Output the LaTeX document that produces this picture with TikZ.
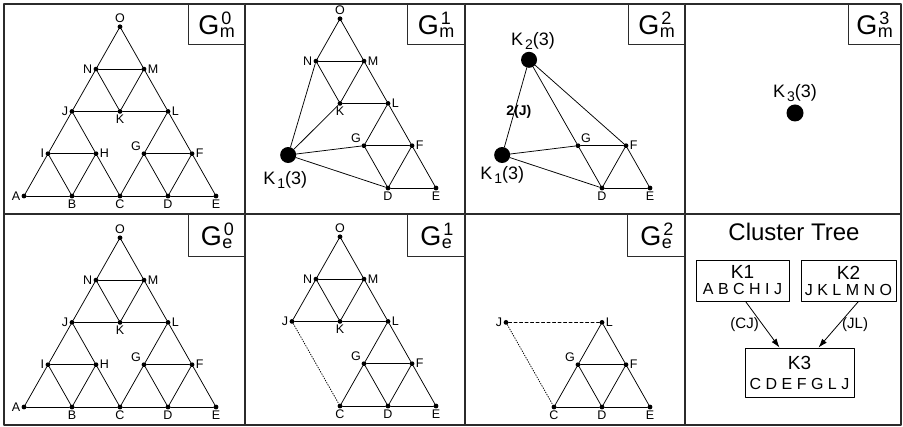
\documentclass[tikz,border=0pt]{standalone}
\usepackage{fontspec}
\setmainfont{Liberation Sans}
\usetikzlibrary{arrows.meta}
\definecolor{panelrule}{HTML}{2B2B2B}

% panel tag G^sup_sub and cluster name K_n(3)
\newcommand{\gtag}[2]{G\kern0.5pt\rlap{\kern1.5pt\raisebox{10.5pt}{\fontsize{18}{18}\selectfont #1}}\raisebox{-2.5pt}{\fontsize{18}{18}\selectfont #2}}
\newcommand{\kname}[1]{K\kern2pt\raisebox{-4pt}{\fontsize{14}{14}\selectfont #1}(3)}

% full triangular mesh in lattice units (name/i/j/label side)
\def\meshnodes{A/0/0/left,B/1/0/below,C/2/0/below,D/3/0/below,E/4/0/below,
  I/0.5/1/left,H/1.5/1/right,G/2.5/1/above left,F/3.5/1/right,
  J/1/2/left,K/2/2/below,L/3/2/right,N/1.5/3/left,M/2.5/3/right,O/2/4/above}
\def\meshedges{A/B,B/C,C/D,D/E,I/H,G/F,J/K,K/L,N/M,
  A/I,I/J,J/N,N/O,O/M,M/L,L/F,F/E,
  I/B,B/H,H/J,H/C,C/G,G/L,G/D,D/F,N/K,K/M}

\begin{document}
\begin{tikzpicture}[
  x=1pt,
  y=-1pt,
  line join=round,
  line cap=round,
  panelframe/.style={draw=panelrule,line width=1.3pt},
  gbox/.style={draw=panelrule,line width=0.9pt,fill=white,anchor=north east,
    minimum width=56pt,minimum height=40pt,inner sep=0pt,font=\fontsize{27}{27}\selectfont},
  link/.style={draw=black,line width=0.75pt},
  hidden/.style={draw=black,line width=0.8pt,dash pattern=on 0.9pt off 1.6pt},
  dashlink/.style={draw=black,line width=0.75pt,dash pattern=on 3pt off 2.5pt},
  dot/.style={circle,fill=black,inner sep=0pt,minimum size=4.8pt},
  bigdot/.style={circle,fill=black,inner sep=0pt,minimum size=16pt},
  vlab/.style={font=\fontsize{12.5}{12.5}\selectfont,inner sep=1pt},
  klab/.style={font=\fontsize{18}{18}\selectfont,inner sep=1pt},
  clbox/.style={draw=black,line width=0.8pt,align=center,inner sep=0pt,
    font=\fontsize{16}{16}\selectfont},
  treearrow/.style={draw=black,line width=0.8pt,-{Latex[length=9pt,width=6pt]}},
  arclab/.style={font=\fontsize{15}{15}\selectfont}
]
  \useasboundingbox (0,0) rectangle (903,427);

  % G_m^0: the whole mesh
  \begin{scope}[shift={(24,196)},x=48pt,y=42.3pt]
    \foreach \v/\i/\j/\p in \meshnodes
      \node[dot,label={[vlab]\p:\v}] (a\v) at (\i,\j) {};
    \foreach \s/\t in \meshedges
      \draw[link] (a\s) -- (a\t);
  \end{scope}

  % G_m^1: lower left part collapsed into K1
  \begin{scope}[shift={(244,188)},x=48pt,y=42.3pt]
    \foreach \v/\i/\j/\p in {O/2/4/above,N/1.5/3/left,M/2.5/3/right,K/2/2/below,L/3/2/right,
        G/2.5/1/above left,F/3.5/1/right,D/3/0/below,E/4/0/below}
      \node[dot,label={[vlab]\p:\v}] (b\v) at (\i,\j) {};
    \node[bigdot,label={[klab,label distance=7pt,xshift=-3pt]below:\kname{1}}] (bk1) at (0.92,0.78) {};
    \foreach \s/\t in {O/N,O/M,N/M,N/K,K/M,M/L,K/L,L/G,L/F,G/F,G/D,D/F,F/E,D/E}
      \draw[link] (b\s) -- (b\t);
    \foreach \t in {N,K,G,D}
      \draw[link] (bk1) -- (b\t);
  \end{scope}

  % G_m^2: upper part collapsed into K2
  \begin{scope}[shift={(458,188)},x=48pt,y=42.3pt]
    \foreach \v/\i/\j/\p in {G/2.5/1/above right,F/3.5/1/right,D/3/0/below,E/4/0/below}
      \node[dot,label={[vlab]\p:\v}] (c\v) at (\i,\j) {};
    \node[bigdot,label={[klab,label distance=2pt]below:\kname{1}}] (ck1) at (0.92,0.78) {};
    \node[bigdot,label={[klab,label distance=1pt,xshift=4pt]above:\kname{2}}] (ck2) at (1.48,3.03) {};
    \draw[link] (ck2) -- node[pos=0.56,xshift=4.5pt,inner sep=0pt,font=\fontsize{14}{14}\selectfont\bfseries] {2(J)} (ck1);
    \foreach \t in {G,F}
      \draw[link] (ck2) -- (c\t);
    \foreach \t in {G,D}
      \draw[link] (ck1) -- (c\t);
    \foreach \s/\t in {G/F,G/D,D/F,D/E,F/E}
      \draw[link] (c\s) -- (c\t);
  \end{scope}

  % G_m^3: single cluster
  \node[bigdot,minimum size=17pt,label={[klab,label distance=1pt]above:\kname{3}}] (dk3) at (795,113) {};

  % G_e^0: the whole mesh
  \begin{scope}[shift={(24,407)},x=48pt,y=42.3pt]
    \foreach \v/\i/\j/\p in \meshnodes
      \node[dot,label={[vlab]\p:\v}] (e\v) at (\i,\j) {};
    \foreach \s/\t in \meshedges
      \draw[link] (e\s) -- (e\t);
  \end{scope}

  % G_e^1: K1 removed, boundary edge JC
  \begin{scope}[shift={(244,406)},x=48pt,y=42.3pt]
    \foreach \v/\i/\j/\p in {O/2/4/above,N/1.5/3/left,M/2.5/3/right,J/1/2/left,K/2/2/below,L/3/2/right,
        G/2.5/1/above left,F/3.5/1/right,C/2/0/below,D/3/0/below,E/4/0/below}
      \node[dot,label={[vlab]\p:\v}] (f\v) at (\i,\j) {};
    \foreach \s/\t in {O/N,O/M,N/M,J/N,N/K,K/M,M/L,J/K,K/L,L/G,L/F,G/F,C/G,G/D,D/F,F/E,C/D,D/E}
      \draw[link] (f\s) -- (f\t);
    \draw[hidden] (fJ) -- (fC);
  \end{scope}

  % G_e^2: K2 removed, boundary edges JL and JC
  \begin{scope}[shift={(458,407)},x=48pt,y=42.3pt]
    \foreach \v/\i/\j/\p in {J/1/2/left,L/3/2/right,G/2.5/1/above left,F/3.5/1/right,
        C/2/0/below,D/3/0/below,E/4/0/below}
      \node[dot,label={[vlab]\p:\v}] (g\v) at (\i,\j) {};
    \foreach \s/\t in {L/G,L/F,G/F,C/G,G/D,D/F,F/E,C/D,D/E}
      \draw[link] (g\s) -- (g\t);
    \draw[dashlink] (gJ) -- (gL);
    \draw[hidden] (gJ) -- (gC);
  \end{scope}

  % cluster tree
  \node[anchor=base,font=\fontsize{24}{24}\selectfont] (ctitle) at (794,241) {Cluster Tree};
  \node[clbox,minimum width=93pt,minimum height=41pt] (k1) at (742.5,280.5)
    {{\fontsize{19}{19}\selectfont K1}\\A B C H I J};
  \node[clbox,minimum width=95pt,minimum height=41pt] (k2) at (848.5,280.5)
    {{\fontsize{19}{19}\selectfont K2}\\J K L M N O};
  \node[clbox,minimum width=109pt,minimum height=49pt] (k3) at (799.5,372.5)
    {{\fontsize{19}{19}\selectfont K3}\\[4pt]C D E F G L J};
  \draw[treearrow] ([xshift=3pt]k1.south) -- node[midway,left,arclab] {(CJ)} ([xshift=-20pt]k3.north);
  \draw[treearrow] ([xshift=10pt]k2.south) -- node[midway,right,arclab] {(JL)} ([xshift=19pt]k3.north);

  % panel rules
  \draw[panelframe] (4,4) rectangle (901,425);
  \foreach \px in {245,465,685}
    \draw[panelframe] (\px,4) -- (\px,425);
  \draw[panelframe] (4,214) -- (901,214);

  % panel tags
  \node[gbox] (tm0) at (245,4) {\gtag{0}{m}};
  \node[gbox,minimum width=57pt] (tm1) at (465,4) {\gtag{1}{m}};
  \node[gbox] (tm2) at (685,4) {\gtag{2}{m}};
  \node[gbox,minimum width=52pt] (tm3) at (901,4) {\gtag{3}{m}};
  \node[gbox,minimum height=42pt] (te0) at (245,214) {\gtag{0}{e}};
  \node[gbox,minimum width=57pt,minimum height=42pt] (te1) at (465,214) {\gtag{1}{e}};
  \node[gbox,minimum width=57pt,minimum height=42pt] (te2) at (685,214) {\gtag{2}{e}};
\end{tikzpicture}
\end{document}
